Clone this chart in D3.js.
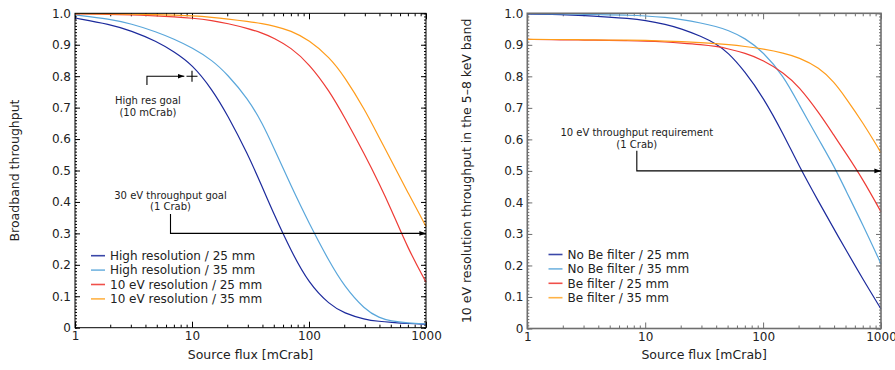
<!DOCTYPE html>
<html><head><meta charset="utf-8">
<script src="https://cdn.jsdelivr.net/npm/d3@7"></script>
<style>
body{margin:0;background:#fff;}
text{font-family:"DejaVu Sans",sans-serif;fill:#222;}
</style></head>
<body><svg id="c" width="895" height="370"></svg>
<script>
// ---------- data ----------
const flux = [1, 2, 3, 5, 7, 10, 15, 20, 30, 40, 50, 70, 100, 150, 200, 300, 400, 500, 700, 1000];

// Left panel: broadband throughput
const leftNames = ["High resolution / 25 mm", "High resolution / 35 mm", "10 eV resolution / 25 mm", "10 eV resolution / 35 mm"];
const hr25  = [0.985,0.965,0.945,0.911,0.878,0.838,0.756,0.678,0.552,0.446,0.362,0.245,0.140,0.073,0.046,0.026,0.020,0.017,0.013,0.011];
const hr35  = [0.995,0.982,0.967,0.941,0.918,0.891,0.850,0.806,0.729,0.650,0.572,0.452,0.332,0.208,0.132,0.057,0.031,0.021,0.015,0.012];
const ev25  = [0.998,0.997,0.995,0.992,0.989,0.985,0.977,0.968,0.952,0.937,0.922,0.891,0.840,0.752,0.671,0.550,0.457,0.380,0.252,0.145];
const ev35  = [0.999,0.998,0.997,0.996,0.994,0.992,0.987,0.982,0.974,0.967,0.960,0.945,0.915,0.860,0.800,0.694,0.603,0.535,0.430,0.322];

// Right panel: 10 eV resolution throughput in 5-8 keV band
const rightNames = ["No Be filter / 25 mm", "No Be filter / 35 mm", "Be filter / 25 mm", "Be filter / 35 mm"];
const nobe25 = [0.998,0.996,0.993,0.988,0.984,0.978,0.965,0.952,0.927,0.903,0.877,0.816,0.734,0.614,0.518,0.398,0.315,0.252,0.157,0.062];
const nobe35 = [0.999,0.998,0.997,0.995,0.994,0.992,0.987,0.981,0.969,0.958,0.947,0.922,0.878,0.800,0.713,0.596,0.515,0.440,0.330,0.205];
const be25   = [0.917,0.916,0.915,0.914,0.913,0.912,0.909,0.906,0.901,0.895,0.888,0.874,0.852,0.811,0.769,0.683,0.612,0.558,0.474,0.370];
const be35   = [0.917,0.917,0.916,0.915,0.915,0.914,0.912,0.910,0.907,0.904,0.901,0.895,0.887,0.874,0.860,0.828,0.782,0.733,0.654,0.558];

const xMajor = [1, 10, 100, 1000];
const yMajor = [0, 0.1, 0.2, 0.3, 0.4, 0.5, 0.6, 0.7, 0.8, 0.9, 1.0];
const yLabels = ["0","0.1","0.2","0.3","0.4","0.5","0.6","0.7","0.8","0.9","1.0"];

const colors = ["#1c2a9c", "#5aa7db", "#ee3b35", "#ff9c1a"];
const legendColors = ["#3a47a8", "#74b5e0", "#f0504a", "#ffb347"];

// ---------- drawing ----------
const svg = d3.select("#c");

function panel(opt) {
  const x = d3.scaleLog().domain([1, 1000]).range([opt.x0, opt.x1]);
  const y = d3.scaleLinear().domain([0, 1]).range([opt.y0, opt.y1]);
  const g = svg.append("g");
  const W = opt.x1 - opt.x0, H = opt.y0 - opt.y1;

  const xMinor = [];
  for (let d = 1; d < 1000; d *= 10) for (let k = 2; k <= 9; k++) xMinor.push(d * k);
  const yMinor = d3.range(0, 101).map(i => i / 100);

  const fc = opt.frame, fw = opt.frameW;
  const styleAx = sel => { sel.select(".domain").remove(); sel.selectAll("line").attr("stroke", fc).attr("stroke-width", 1); };

  g.append("g").attr("transform", `translate(0,${opt.y0})`)
    .call(d3.axisBottom(x).tickValues(xMinor).tickFormat("").tickSize(-3)).call(styleAx);
  g.append("g").attr("transform", `translate(0,${opt.y1})`)
    .call(d3.axisTop(x).tickValues(xMinor).tickFormat("").tickSize(-3)).call(styleAx);
  g.append("g").attr("transform", `translate(0,${opt.y1})`)
    .call(d3.axisTop(x).tickValues(xMajor).tickFormat("").tickSize(-6)).call(styleAx);
  g.append("g").attr("transform", `translate(${opt.x0},0)`)
    .call(d3.axisLeft(y).tickValues(yMinor).tickFormat("").tickSize(-2)).call(styleAx);
  g.append("g").attr("transform", `translate(${opt.x1},0)`)
    .call(d3.axisRight(y).tickValues(yMinor).tickFormat("").tickSize(-2)).call(styleAx);
  g.append("g").attr("transform", `translate(${opt.x1},0)`)
    .call(d3.axisRight(y).tickValues(yMajor).tickFormat("").tickSize(-5)).call(styleAx);

  const bx = g.append("g").attr("transform", `translate(0,${opt.y0})`)
    .call(d3.axisBottom(x).tickValues(xMajor).tickFormat(d3.format("d")).tickSize(-6).tickPadding(4));
  bx.call(styleAx);
  bx.selectAll("text").attr("font-size", 12).attr("fill", "#222").attr("font-family", "DejaVu Sans");
  const ly = g.append("g").attr("transform", `translate(${opt.x0},0)`)
    .call(d3.axisLeft(y).tickValues(yMajor).tickFormat((d, i) => yLabels[i]).tickSize(-5).tickPadding(4));
  ly.call(styleAx);
  ly.selectAll("text").attr("font-size", 12).attr("fill", "#222").attr("font-family", "DejaVu Sans");

  // curves
  const line = d3.line().x(d => x(d[0])).y(d => y(d[1])).curve(d3.curveBasis);
  opt.series.forEach((s, i) => {
    g.append("path").datum(flux.map((f, j) => [f, s[j]]))
      .attr("d", line).attr("fill", "none").attr("stroke", colors[i]).attr("stroke-width", 1.2);
  });

  // frame
  g.append("rect").attr("x", opt.x0).attr("y", opt.y1).attr("width", W).attr("height", H)
    .attr("fill", "none").attr("stroke", fc).attr("stroke-width", fw);

  // axis titles
  g.append("text").attr("x", (opt.x0 + opt.x1) / 2).attr("y", 359).attr("text-anchor", "middle")
    .attr("font-size", 12.5).text("Source flux [mCrab]");
  g.append("text").attr("transform", `translate(${opt.ylabX},${(opt.y0 + opt.y1) / 2}) rotate(-90)`)
    .attr("text-anchor", "middle").attr("font-size", 12.5).text(opt.ylabel);

  // legend
  opt.names.forEach((n, i) => {
    const yy = opt.legY + i * 14.4;
    g.append("line").attr("x1", opt.legX).attr("x2", opt.legX + 14).attr("y1", yy).attr("y2", yy)
      .attr("stroke", legendColors[i]).attr("stroke-width", 1.6);
    g.append("text").attr("x", opt.legX + 19).attr("y", yy + 4.3).attr("font-size", 12).text(n);
  });

  return {x, y, g};
}

svg.append("defs").append("marker").attr("id", "ah").attr("viewBox", "0 0 10 10")
  .attr("refX", 10).attr("refY", 5).attr("markerWidth", 6).attr("markerHeight", 6)
  .attr("orient", "auto").append("path").attr("d", "M0,1.5L10,5L0,8.5Z").attr("fill", "#000");

const L = panel({x0: 75, x1: 426, y0: 327.7, y1: 13.3, frame: "#000", frameW: 1,
  series: [hr25, hr35, ev25, ev35], names: leftNames, legX: 91, legY: 255.7,
  ylabX: 19, ylabel: "Broadband throughput"});
const R = panel({x0: 527.3, x1: 881, y0: 328.5, y1: 13.3, frame: "#6e6e6e", frameW: 1.6,
  series: [nobe25, nobe35, be25, be35], names: rightNames, legX: 548.5, legY: 254.5,
  ylabX: 471, ylabel: "10 eV resolution throughput in the 5–8 keV band"});

function annot(P, lines, tx, ty, vx, vyTop, vyEnd, xEnd) {
  const {x, y, g} = P;
  lines.forEach((t, i) => g.append("text").attr("x", x(tx)).attr("y", y(ty[i]) + 3.5)
    .attr("text-anchor", "middle").attr("font-size", 10).text(t));
  g.append("path").attr("d", `M${x(vx)},${y(vyTop)}V${y(vyEnd)}H${x(xEnd)}`)
    .attr("fill", "none").attr("stroke", "#000").attr("stroke-width", 1.1).attr("marker-end", "url(#ah)");
}
annot(L, ["High res goal", "(10 mCrab)"], 4.2, [0.724, 0.683], 4.12, 0.772, 0.8, 8.6);
annot(L, ["30 eV throughput goal", "(1 Crab)"], 6.55, [0.419, 0.384], 6.55, 0.362, 0.3, 1000);
annot(R, ["10 eV throughput requirement", "(1 Crab)"], 8.49, [0.621, 0.584], 8.49, 0.564, 0.5, 1000);

const px = L.x(10), py = L.y(0.8);
L.g.append("path").attr("d", `M${px - 5.5},${py}H${px + 5.5}M${px},${py - 5.5}V${py + 5.5}`)
  .attr("stroke", "#000").attr("stroke-width", 1.1);
</script></body></html>
